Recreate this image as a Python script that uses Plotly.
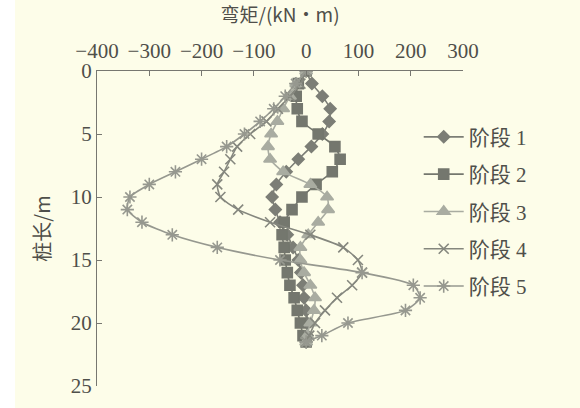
import plotly.graph_objects as go

# Pile depth (m) sampled along each curve
depth = [0, 1, 2, 3, 4, 5, 6, 7, 8, 9, 10, 11, 12, 13, 14, 15, 16, 17, 18, 19, 20, 21, 21.5]

# Bending moment (kN·m) per construction stage
stage1 = [0, 11, 31, 46, 44, 31, 10, -15, -38, -57, -65, -59, -50, -36, -25, -15, -10, -6, -4, 0, 2, 2, 0]
stage2 = [0, -15, -19, -17, -8, 23, 55, 65, 50, 19, -8, -27, -42, -46, -42, -40, -36, -31, -23, -17, -11, -6, 0]
stage3 = [0, -19, -31, -44, -55, -67, -73, -69, -44, 8, 40, 42, 23, 4, -11, -11, -4, 8, 17, 15, 8, 2, 0]
stage4 = [0, -11, -31, -54, -76, -107, -132, -145, -157, -170, -164, -130, -69, 8, 71, 99, 107, 88, 59, 36, 17, 6, 0]
stage5 = [0, -20, -40, -62, -88, -118, -152, -200, -250, -300, -337, -342, -314, -256, -170, -50, 107, 205, 218, 190, 80, 30, 0]

stage_names = ["阶段 1", "阶段 2", "阶段 3", "阶段 4", "阶段 5"]

x_ticks = [-400, -300, -200, -100, 0, 100, 200, 300]
y_ticks = [0, 5, 10, 15, 20, 25]

serif = "Liberation Serif, Noto Sans CJK SC, serif"
cjk = "Noto Sans CJK SC, sans-serif"
ink = "#4f4f4a"
axis_col = "#777770"
bg = "#fdfde9"

styles = [
    dict(color="#7c7e76", symbol="diamond", size=9),
    dict(color="#74776e", symbol="square", size=10),
    dict(color="#a9aca1", symbol="triangle-up", size=11),
    dict(color="#85877e", symbol="x-thin-open", size=10),
    dict(color="#96988f", symbol="asterisk-open", size=11),
]

fig = go.Figure()
for name, vals, st in zip(stage_names, [stage1, stage2, stage3, stage4, stage5], styles):
    fig.add_trace(go.Scatter(
        x=vals, y=depth, name=name, mode="lines+markers",
        line=dict(color=st["color"], width=1.6, shape="spline", smoothing=0.6),
        marker=dict(symbol=st["symbol"], size=st["size"], color=st["color"],
                    line=dict(color=st["color"], width=1.6)),
        legendgroup=name,
    ))

fig.update_layout(
    width=580, height=408,
    margin=dict(l=97, r=117, t=71, b=22, autoexpand=False),
    paper_bgcolor=bg, plot_bgcolor=bg,
    showlegend=True,
    legend=dict(
        x=0.879, y=0.855, xanchor="left", yanchor="top",
        font=dict(family=serif, size=21, color=ink),
        bgcolor="rgba(0,0,0,0)", itemwidth=40, tracegroupgap=7,
    ),
    xaxis=dict(
        side="top", range=[-400, 300], tickvals=x_ticks,
        ticktext=["\u2212400", "\u2212300", "\u2212200", "\u2212100", "0", "100", "200", "300"],
        ticks="inside", ticklen=5, tickcolor=axis_col, tickwidth=1,
        showline=True, linecolor=axis_col, linewidth=1,
        showgrid=False, zeroline=False, ticklabelstandoff=4,
        tickfont=dict(family=serif, size=21, color=ink),
        title=dict(text="弯矩/(kN·m)", font=dict(family=cjk, size=19, color=ink), standoff=10),
    ),
    yaxis=dict(
        range=[25, 0], tickvals=y_ticks,
        ticks="inside", ticklen=5, tickcolor=axis_col, tickwidth=1,
        showline=True, linecolor=axis_col, linewidth=1,
        showgrid=False, zeroline=False,
        tickfont=dict(family=serif, size=21, color=ink),
        title=dict(text="桩长/m", font=dict(family=cjk, size=20, color=ink), standoff=14),
    ),
    shapes=[dict(type="rect", xref="paper", yref="paper", x0=-0.27, x1=-0.224,
                 y0=-0.1, y1=1.3, fillcolor="white", line=dict(width=0), layer="below")],
)

fig.write_html("out.html")
